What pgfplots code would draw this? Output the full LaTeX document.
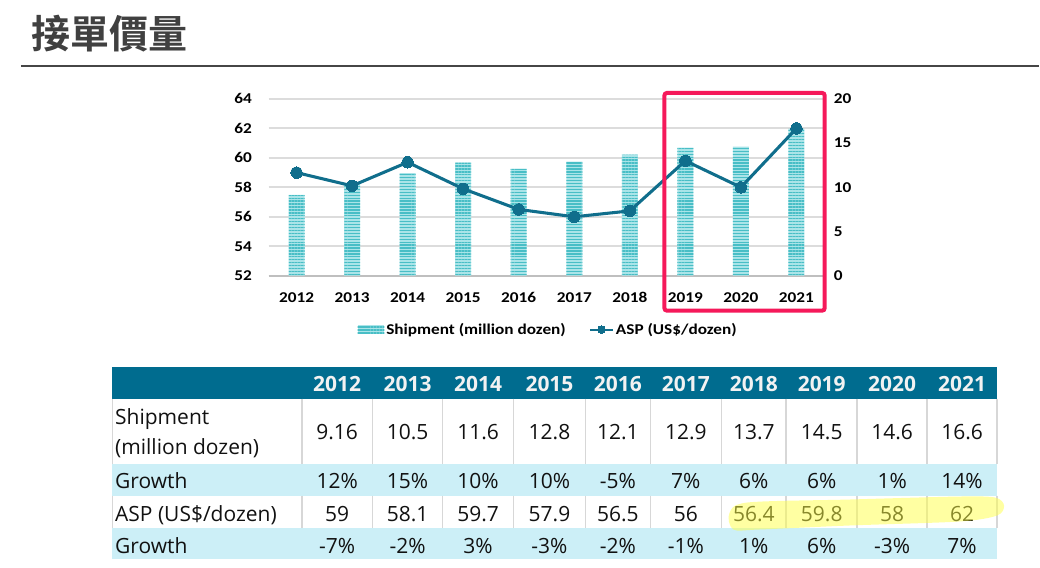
\documentclass[border=0pt]{standalone}
\usepackage{pgfplots}
\pgfplotsset{compat=1.18}
\usepackage{fontspec}
\usetikzlibrary{patterns.meta}
\setmainfont{Open Sans}
\newfontfamily\chartfont{Carlito}[FakeStretch=1.15, BoldFont={Carlito Bold}, BoldFeatures={FakeStretch=1.15}]
\newfontfamily\cjk{Noto Sans CJK TC}[BoldFont={Noto Sans CJK TC Bold}]
\newfontfamily\tabfont{Open Sans}
\definecolor{linec}{RGB}{16,110,140}
\definecolor{barlight}{RGB}{170,228,232}
\definecolor{bardark}{RGB}{72,190,198}
\definecolor{gridc}{RGB}{220,220,220}
\definecolor{axisc}{RGB}{191,191,191}
\definecolor{redbox}{RGB}{245,25,90}
\definecolor{headc}{RGB}{0,108,143}
\definecolor{cyanrow}{RGB}{204,239,247}
\definecolor{sepc}{RGB}{215,215,215}
\definecolor{titlec}{RGB}{64,64,64}
\definecolor{hl}{RGB}{255,255,70}
\tikzset{shipbar/.style={fill=barlight, draw=none, postaction={pattern={Lines[angle=0,distance=2.2pt,line width=1pt]}, pattern color=bardark}}}
\pgfplotsset{
  common/.style={at={(201.75pt,-207pt)}, anchor=south west, scale only axis,
    width=417pt, height=132.75pt, xmin=-0.5, xmax=9.5,
    major tick length=0pt,
    tick label style={font=\chartfont\bfseries\fontsize{11.25}{13}\selectfont, text=black},
    /pgf/number format/assume math mode=true},
}
\begin{document}
\begin{tikzpicture}
\begin{scope}[x=0.75pt, y=-0.75pt]
\path[use as bounding box] (0,0) rectangle (1040,568);
\end{scope}
% grid, left axis, x labels
\begin{axis}[common, ymin=52, ymax=64, ytick={52,54,...,64},
  xtick={0,...,9}, xticklabels={2012,2013,2014,2015,2016,2017,2018,2019,2020,2021},
  ymajorgrids, grid style={gridc, line width=1.5pt},
  axis x line*=bottom, axis y line*=left,
  y axis line style={draw=none},
  x axis line style={axisc, line width=1.5pt},
  xticklabel style={anchor=base, yshift=-20pt},
  yticklabel style={anchor=east, inner sep=0pt, xshift=-12.5pt}]
\end{axis}
% bars, right axis
\begin{axis}[common, ymin=0, ymax=20, ytick={0,5,...,20},
  axis y line*=right, axis x line=none, y axis line style={draw=none},
  xtick=\empty, ybar, bar width=12pt,
  yticklabel style={anchor=west, inner sep=0pt, xshift=7pt}]
\addplot[shipbar] coordinates {(0,9.16) (1,10.5) (2,11.6) (3,12.8) (4,12.1) (5,12.9) (6,13.7) (7,14.5) (8,14.6) (9,16.6)};
\end{axis}
% line + legend
\begin{axis}[common, ymin=52, ymax=64, hide axis,
  legend style={at={(0.503,-0.305)}, anchor=center, draw=none, fill=none,
    font=\chartfont\bfseries\fontsize{11.25}{13}\selectfont,
    legend columns=2, /tikz/every even column/.append style={column sep=16pt},
    nodes={inner sep=1.5pt}},
  legend image post style={mark size=2.9pt, line width=1.6pt}]
\addlegendimage{draw=none, legend image code/.code={%
  \fill[barlight, draw=none] (0pt,-3.4pt) rectangle (20pt,3.4pt);
  \path[draw=none, pattern={Lines[angle=0,distance=2.2pt,line width=1pt]}, pattern color=bardark] (0pt,-3.4pt) rectangle (20pt,3.4pt);}}
\addlegendentry{Shipment (million dozen)}
\addplot[linec, line width=2.3pt, mark=*, mark size=4.3pt, mark options={fill=linec, draw=linec, line width=0pt}]
  coordinates {(0,59) (1,58.1) (2,59.7) (3,57.9) (4,56.5) (5,56) (6,56.4) (7,59.8) (8,58) (9,62)};
\addlegendentry{ASP (US\$/dozen)}
\end{axis}
\begin{scope}[x=0.75pt, y=-0.75pt]
% title and rule
\node[anchor=west, inner sep=0pt, text=titlec, font=\cjk\bfseries\fontsize{29.3}{32}\selectfont] at (31,34) {接單價量};
\draw[line width=1.5pt, color={rgb,255:red,70;green,70;blue,70}] (21,66.5) -- (1040,66.5);
% red box
\draw[redbox, line width=3pt, rounded corners=2pt] (665,93) rectangle (825.5,311);
% table backgrounds
\fill[headc] (112,367) rectangle (998,399);
\fill[cyanrow] (112,464) rectangle (998,496);
\fill[cyanrow] (112,528) rectangle (998,560);
\foreach \x in {112.7,302,373,443,514,586,651,722,787,858,928,998}{
  \draw[sepc, line width=1.2pt] (\x,399) -- (\x,464);
  \draw[sepc, line width=1.2pt] (\x,496) -- (\x,528);
}
\tikzset{tt/.style={inner sep=0pt, anchor=base, text={rgb,255:red,17;green,17;blue,17}, font=\tabfont\fontsize{15.75}{18}\selectfont}}
\node[tt, anchor=base west] at (115,425) {Shipment};
\node[tt, anchor=base west] at (115,455) {(million dozen)};
\node[tt, anchor=base west] at (115,489) {Growth};
\node[tt, anchor=base west] at (115,522) {ASP (US\$/dozen)};
\node[tt, anchor=base west] at (115,554) {Growth};
\foreach \x/\yr/\s/\g/\a/\h in {337.5/2012/9.16/12\%/59/-7\%, 408/2013/10.5/15\%/58.1/-2\%,
   478.5/2014/11.6/10\%/59.7/3\%, 550/2015/12.8/10\%/57.9/-3\%, 618.5/2016/12.1/-5\%/56.5/-2\%,
   686.5/2017/12.9/7\%/56/-1\%, 754.5/2018/13.7/6\%/56.4/1\%, 822.5/2019/14.5/6\%/59.8/6\%,
   893/2020/14.6/1\%/58/-3\%, 963/2021/16.6/14\%/62/7\%}{
  \node[tt, text={rgb,255:red,242;green,242;blue,242}, font=\tabfont\bfseries\fontsize{15.75}{18}\selectfont] at (\x,391.7) {\yr};
  \node[tt] at (\x,440) {\s};
  \node[tt] at (\x,489) {\g};
  \node[tt] at (\x,522) {\a};
  \node[tt] at (\x,554) {\h};
}
% yellow highlight
\fill[hl, opacity=0.5] plot[smooth cycle] coordinates {(730,514) (748,503) (850,500) (960,497) (996,498) (1005,506) (998,516) (960,522) (850,526) (760,530) (734,530)};
\end{scope}
\end{tikzpicture}
\end{document}
